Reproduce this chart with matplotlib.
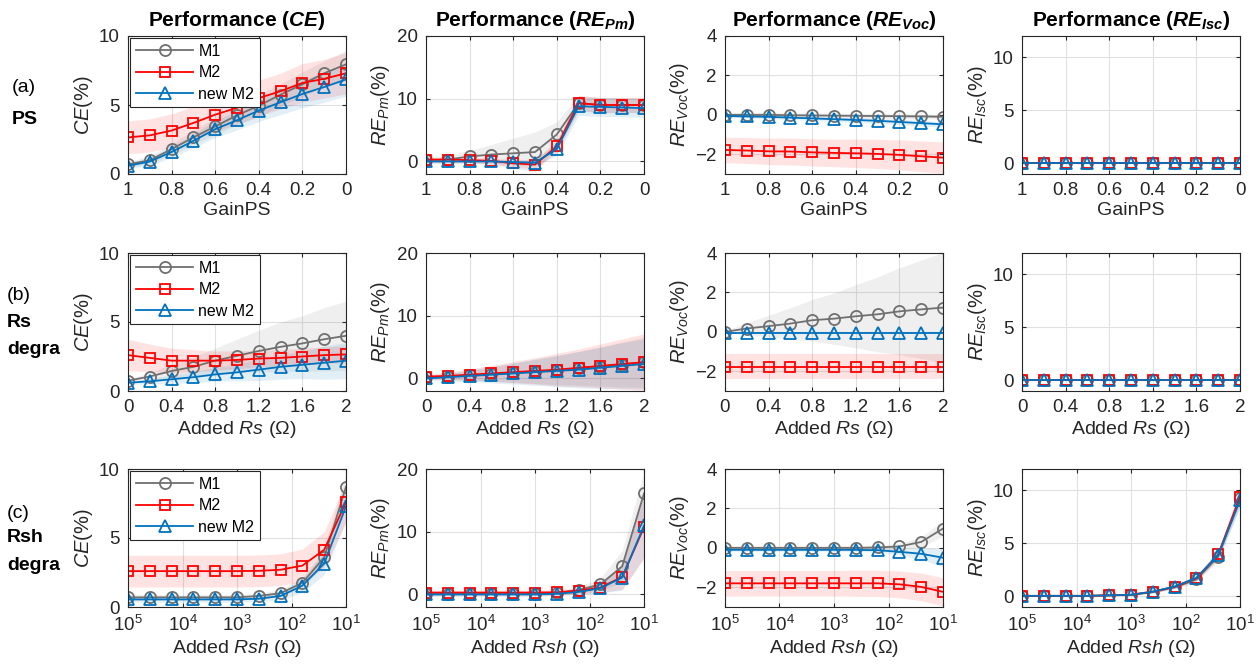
import numpy as np
import matplotlib
matplotlib.use('Agg')
import matplotlib.pyplot as plt

plt.rcParams['font.family'] = 'Liberation Sans'
plt.rcParams['mathtext.fontset'] = 'custom'
plt.rcParams['mathtext.rm'] = 'Liberation Sans'
plt.rcParams['mathtext.it'] = 'Liberation Sans:italic'
plt.rcParams['mathtext.bf'] = 'Liberation Sans:bold'
plt.rcParams['mathtext.bfit'] = 'Liberation Sans:italic:bold'

# x values of the three sweeps
gain = [1, 0.9, 0.8, 0.7, 0.6, 0.5, 0.4, 0.3, 0.2, 0.1, 0]
rs = [0, 0.2, 0.4, 0.6, 0.8, 1.0, 1.2, 1.4, 1.6, 1.8, 2.0]
rsh_exp = [5, 4.6, 4.2, 3.8, 3.4, 3.0, 2.6, 2.2, 1.8, 1.4, 1.0]
rsh = 10 ** np.array(rsh_exp)

# (a) PS
ps_ce_m1 = [0.7, 1.0, 1.8, 2.65, 3.45, 4.25, 4.95, 5.75, 6.5, 7.3, 7.95]
ps_ce_m2 = [2.65, 2.8, 3.15, 3.7, 4.3, 4.8, 5.5, 6.0, 6.6, 6.9, 7.3]
ps_ce_new = [0.6, 0.9, 1.6, 2.4, 3.25, 3.9, 4.6, 5.2, 5.8, 6.3, 6.85]
ps_ce_m1_sd = [0.2, 0.3, 0.4, 0.5, 0.6, 0.7, 0.8, 0.8, 0.9, 0.9, 1.0]
ps_ce_m2_sd = [1.2, 1.2, 1.2, 1.2, 1.2, 1.2, 1.3, 1.3, 1.4, 1.4, 1.5]
ps_ce_new_sd = [0.2, 0.3, 0.4, 0.5, 0.6, 0.7, 0.8, 0.9, 1.0, 1.1, 1.2]

ps_pm_m1 = [0.2, 0.3, 0.8, 1.1, 1.3, 1.5, 4.3, 9.3, 9.0, 9.0, 9.0]
ps_pm_m2 = [0.3, 0.3, 0.2, 0.1, -0.3, -0.5, 2.4, 9.3, 9.0, 9.0, 9.0]
ps_pm_new = [0.0, 0.0, 0.0, 0.0, -0.1, -0.2, 2.0, 8.8, 8.7, 8.6, 8.5]
ps_pm_m1_sd = [0.4, 0.6, 1.0, 1.6, 2.4, 3.2, 2.0, 1.2, 1.2, 1.2, 1.2]
ps_pm_m2_sd = [0.4, 0.4, 0.4, 0.5, 0.6, 0.7, 1.0, 1.2, 1.2, 1.2, 1.2]
ps_pm_new_sd = [0.3, 0.3, 0.3, 0.3, 0.4, 0.5, 1.0, 1.5, 1.5, 1.5, 1.5]

ps_voc_m1 = [0.0, 0.0, 0.0, -0.02, -0.03, -0.04, -0.05, -0.06, -0.07, -0.08, -0.1]
ps_voc_m2 = [-1.78, -1.81, -1.85, -1.86, -1.9, -1.93, -1.95, -1.98, -2.03, -2.1, -2.17]
ps_voc_new = [-0.05, -0.08, -0.1, -0.14, -0.18, -0.22, -0.26, -0.3, -0.36, -0.42, -0.48]
ps_voc_m1_sd = [0.12, 0.12, 0.12, 0.12, 0.12, 0.12, 0.12, 0.12, 0.12, 0.12, 0.12]
ps_voc_m2_sd = [0.65, 0.66, 0.67, 0.68, 0.69, 0.7, 0.72, 0.74, 0.76, 0.78, 0.8]
ps_voc_new_sd = [0.08, 0.08, 0.09, 0.1, 0.1, 0.11, 0.12, 0.12, 0.13, 0.14, 0.15]

ps_isc_m1 = [0.05, 0.05, 0.05, 0.05, 0.05, 0.05, 0.05, 0.05, 0.05, 0.05, 0.05]
ps_isc_m2 = [0.05, 0.05, 0.05, 0.05, 0.05, 0.05, 0.05, 0.05, 0.05, 0.05, 0.05]
ps_isc_new = [0.05, 0.05, 0.05, 0.05, 0.05, 0.05, 0.05, 0.05, 0.05, 0.05, 0.05]
ps_isc_sd = [0.05, 0.05, 0.05, 0.05, 0.05, 0.05, 0.05, 0.05, 0.05, 0.05, 0.05]

# (b) Rs degradation
rs_ce_m1 = [0.75, 1.05, 1.45, 1.75, 2.2, 2.55, 2.9, 3.2, 3.45, 3.75, 4.0]
rs_ce_m2 = [2.6, 2.4, 2.2, 2.2, 2.2, 2.25, 2.35, 2.4, 2.5, 2.6, 2.65]
rs_ce_new = [0.6, 0.7, 0.85, 1.0, 1.2, 1.35, 1.55, 1.75, 1.9, 2.05, 2.2]
rs_ce_m1_sd = [0.1, 0.3, 0.5, 0.7, 0.9, 1.2, 1.5, 1.8, 2.0, 2.3, 2.5]
rs_ce_m2_sd = [1.15, 1.0, 0.9, 0.8, 0.7, 0.65, 0.6, 0.6, 0.6, 0.6, 0.6]
rs_ce_new_sd = [0.1, 0.2, 0.3, 0.4, 0.5, 0.6, 0.8, 0.9, 1.0, 1.2, 1.3]

rs_pm_m1 = [0.2, 0.3, 0.5, 0.7, 0.9, 1.1, 1.3, 1.6, 1.9, 2.2, 2.6]
rs_pm_m2 = [0.3, 0.4, 0.6, 0.8, 1.0, 1.2, 1.4, 1.7, 2.0, 2.3, 2.6]
rs_pm_new = [0.0, 0.2, 0.4, 0.6, 0.8, 1.0, 1.2, 1.4, 1.7, 2.0, 2.3]
rs_pm_m1_sd = [0.3, 0.5, 0.8, 1.1, 1.5, 1.9, 2.3, 2.7, 3.1, 3.6, 4.0]
rs_pm_m2_sd = [0.3, 0.6, 0.9, 1.3, 1.7, 2.1, 2.6, 3.0, 3.5, 4.0, 4.5]
rs_pm_new_sd = [0.3, 0.6, 0.9, 1.3, 1.7, 2.1, 2.5, 2.9, 3.3, 3.7, 4.0]

rs_voc_m1 = [0.0, 0.17, 0.29, 0.42, 0.59, 0.67, 0.79, 0.89, 1.04, 1.14, 1.23]
rs_voc_m2 = [-1.76, -1.76, -1.76, -1.76, -1.76, -1.76, -1.76, -1.76, -1.76, -1.76, -1.76]
rs_voc_new = [-0.08, -0.08, -0.08, -0.08, -0.08, -0.08, -0.08, -0.08, -0.08, -0.08, -0.08]
rs_voc_m1_sd = [0.05, 0.3, 0.55, 0.8, 1.05, 1.3, 1.6, 1.9, 2.2, 2.5, 2.8]
rs_voc_m2_sd = [0.65, 0.65, 0.65, 0.65, 0.65, 0.65, 0.65, 0.65, 0.65, 0.65, 0.65]
rs_voc_new_sd = [0.05, 0.05, 0.05, 0.05, 0.05, 0.05, 0.05, 0.05, 0.05, 0.05, 0.05]

rs_isc_m1 = [0.05, 0.05, 0.05, 0.05, 0.05, 0.05, 0.05, 0.05, 0.05, 0.05, 0.05]
rs_isc_m2 = [0.05, 0.05, 0.05, 0.05, 0.05, 0.05, 0.05, 0.05, 0.05, 0.05, 0.05]
rs_isc_new = [0.05, 0.05, 0.05, 0.05, 0.05, 0.05, 0.05, 0.05, 0.05, 0.05, 0.05]
rs_isc_sd = [0.05, 0.05, 0.05, 0.05, 0.05, 0.05, 0.05, 0.05, 0.05, 0.05, 0.05]

# (c) Rsh degradation
rsh_ce_m1 = [0.7, 0.7, 0.7, 0.7, 0.7, 0.7, 0.8, 1.0, 1.75, 3.6, 8.7]
rsh_ce_m2 = [2.6, 2.6, 2.6, 2.6, 2.6, 2.6, 2.62, 2.7, 3.0, 4.15, 7.6]
rsh_ce_new = [0.55, 0.55, 0.55, 0.55, 0.55, 0.55, 0.6, 0.8, 1.55, 3.15, 7.3]
rsh_ce_m1_sd = [0.2, 0.2, 0.2, 0.2, 0.2, 0.2, 0.2, 0.25, 0.35, 0.6, 1.0]
rsh_ce_m2_sd = [1.15, 1.15, 1.15, 1.15, 1.15, 1.15, 1.15, 1.15, 1.2, 1.3, 1.5]
rsh_ce_new_sd = [0.2, 0.2, 0.2, 0.2, 0.2, 0.2, 0.2, 0.3, 0.5, 0.8, 1.0]

rsh_pm_m1 = [0.1, 0.1, 0.1, 0.1, 0.1, 0.1, 0.2, 0.7, 1.6, 4.5, 16.1]
rsh_pm_m2 = [0.3, 0.3, 0.3, 0.3, 0.3, 0.3, 0.35, 0.6, 1.1, 2.8, 10.7]
rsh_pm_new = [0.0, 0.0, 0.0, 0.0, 0.0, 0.0, 0.1, 0.4, 1.0, 2.7, 11.0]
rsh_pm_m1_sd = [0.3, 0.3, 0.3, 0.3, 0.3, 0.3, 0.3, 0.5, 1.0, 2.5, 3.5]
rsh_pm_m2_sd = [0.4, 0.4, 0.4, 0.4, 0.4, 0.4, 0.4, 0.5, 0.8, 2.0, 5.0]
rsh_pm_new_sd = [0.3, 0.3, 0.3, 0.3, 0.3, 0.3, 0.3, 0.4, 0.8, 2.0, 5.0]

rsh_voc_m1 = [0.0, 0.0, 0.0, 0.0, 0.0, 0.0, 0.0, 0.02, 0.07, 0.3, 0.98]
rsh_voc_m2 = [-1.8, -1.8, -1.8, -1.8, -1.8, -1.8, -1.8, -1.8, -1.85, -1.98, -2.23]
rsh_voc_new = [-0.1, -0.1, -0.1, -0.1, -0.1, -0.1, -0.1, -0.12, -0.2, -0.3, -0.5]
rsh_voc_m1_sd = [0.1, 0.1, 0.1, 0.1, 0.1, 0.1, 0.1, 0.12, 0.15, 0.25, 0.4]
rsh_voc_m2_sd = [0.65, 0.65, 0.65, 0.65, 0.65, 0.65, 0.66, 0.67, 0.68, 0.7, 0.72]
rsh_voc_new_sd = [0.08, 0.08, 0.08, 0.08, 0.08, 0.08, 0.08, 0.1, 0.15, 0.3, 0.45]

rsh_isc_m1 = [0.05, 0.05, 0.05, 0.05, 0.1, 0.15, 0.4, 0.85, 1.6, 3.75, 9.25]
rsh_isc_m2 = [0.05, 0.05, 0.05, 0.05, 0.1, 0.15, 0.45, 0.9, 1.7, 3.95, 9.4]
rsh_isc_new = [0.05, 0.05, 0.05, 0.05, 0.1, 0.15, 0.45, 0.93, 1.75, 3.9, 9.05]
rsh_isc_sd = [0.05, 0.05, 0.05, 0.05, 0.05, 0.05, 0.1, 0.15, 0.25, 0.4, 0.7]

labels = ['M1', 'M2', 'new M2']
colors = ['#707070', '#ff0000', '#0072bd']
markers = ['o', 's', '^']
msizes = [8, 7, 8.5]

titles = [r'Performance ($\mathbfit{CE}$)', r'Performance ($\mathbfit{RE_{Pm}}$)',
          r'Performance ($\mathbfit{RE_{Voc}}$)', r'Performance ($\mathbfit{RE_{Isc}}$)']
ylabels = [r'$CE$(%)', r'$RE_{Pm}$(%)', r'$RE_{Voc}$(%)', r'$RE_{Isc}$(%)']
ylims = [(0, 10), (-2, 20), (-3, 4), (-1, 12)]
yticks = [[0, 5, 10], [0, 10, 20], [-2, 0, 2, 4], [0, 5, 10]]
xlabels = ['GainPS', r'Added $Rs$ ($\Omega$)', r'Added $Rsh$ ($\Omega$)']

rows = [
    (gain, [(ps_ce_m1, ps_ce_m2, ps_ce_new), (ps_pm_m1, ps_pm_m2, ps_pm_new),
            (ps_voc_m1, ps_voc_m2, ps_voc_new), (ps_isc_m1, ps_isc_m2, ps_isc_new)],
     [(ps_ce_m1_sd, ps_ce_m2_sd, ps_ce_new_sd), (ps_pm_m1_sd, ps_pm_m2_sd, ps_pm_new_sd),
      (ps_voc_m1_sd, ps_voc_m2_sd, ps_voc_new_sd), (ps_isc_sd, ps_isc_sd, ps_isc_sd)]),
    (rs, [(rs_ce_m1, rs_ce_m2, rs_ce_new), (rs_pm_m1, rs_pm_m2, rs_pm_new),
          (rs_voc_m1, rs_voc_m2, rs_voc_new), (rs_isc_m1, rs_isc_m2, rs_isc_new)],
     [(rs_ce_m1_sd, rs_ce_m2_sd, rs_ce_new_sd), (rs_pm_m1_sd, rs_pm_m2_sd, rs_pm_new_sd),
      (rs_voc_m1_sd, rs_voc_m2_sd, rs_voc_new_sd), (rs_isc_sd, rs_isc_sd, rs_isc_sd)]),
    (rsh, [(rsh_ce_m1, rsh_ce_m2, rsh_ce_new), (rsh_pm_m1, rsh_pm_m2, rsh_pm_new),
           (rsh_voc_m1, rsh_voc_m2, rsh_voc_new), (rsh_isc_m1, rsh_isc_m2, rsh_isc_new)],
     [(rsh_ce_m1_sd, rsh_ce_m2_sd, rsh_ce_new_sd), (rsh_pm_m1_sd, rsh_pm_m2_sd, rsh_pm_new_sd),
      (rsh_voc_m1_sd, rsh_voc_m2_sd, rsh_voc_new_sd), (rsh_isc_sd, rsh_isc_sd, rsh_isc_sd)]),
]

W, H = 1260, 672
fig = plt.figure(figsize=(12.6, 6.72), dpi=100)
col_left = [128, 426, 725, 1022]
row_bottom = [174, 391, 607]
ax_w, ax_h = 218, 138
ink = '#262626'

for r, (x, means, sds) in enumerate(rows):
    for c in range(4):
        ax = fig.add_axes([col_left[c] / W, 1 - row_bottom[r] / H, ax_w / W, ax_h / H])
        xs = np.array(x, dtype=float)
        for k in range(3):
            y = np.array(means[c][k])
            s = np.array(sds[c][k])
            ax.fill_between(xs, y - s, y + s, color=colors[k], alpha=0.11, lw=0)
        for k in range(3):
            ax.plot(xs, means[c][k], color=colors[k], marker=markers[k], ms=msizes[k],
                    mfc='none', mew=1.3, lw=1.3, label=labels[k])
        if r == 2:
            ax.set_xscale('log')
            ax.set_xlim(1e5, 1e1)
            ax.set_xticks([1e5, 1e4, 1e3, 1e2, 1e1])
            ax.minorticks_off()
        elif r == 0:
            ax.set_xlim(1, 0)
            ax.set_xticks([1, 0.8, 0.6, 0.4, 0.2, 0])
            ax.set_xticklabels(['1', '0.8', '0.6', '0.4', '0.2', '0'])
        else:
            ax.set_xlim(0, 2)
            ax.set_xticks([0, 0.4, 0.8, 1.2, 1.6, 2])
            ax.set_xticklabels(['0', '0.4', '0.8', '1.2', '1.6', '2'])
        ax.set_ylim(*ylims[c])
        ax.set_yticks(yticks[c])
        ax.grid(True, color='#e0e0e0', lw=0.8)
        ax.set_axisbelow(True)
        ax.tick_params(direction='in', top=True, right=True, labelsize=13.5,
                       colors=ink, length=3, pad=6)
        for sp in ax.spines.values():
            sp.set_color(ink)
            sp.set_linewidth(0.8)
        ax.set_ylabel(ylabels[c], fontsize=14.5, color=ink, labelpad=3)
        ax.set_xlabel(xlabels[r], fontsize=14, color=ink, labelpad=2)
        if r == 0:
            ax.set_title(titles[c], fontsize=15, fontweight='bold', pad=7)
        if c == 0:
            leg = ax.legend(loc='upper left', fontsize=11.5, handlelength=3.6,
                            borderaxespad=0.15, fancybox=False, framealpha=1,
                            edgecolor=ink, labelspacing=0.4, borderpad=0.35,
                            handletextpad=0.3)
            leg.get_frame().set_linewidth(0.8)

# row labels on the left
fig.text(12 / W, 1 - 88 / H, '(a)', fontsize=14, va='center')
fig.text(12 / W, 1 - 120 / H, 'PS', fontsize=14, fontweight='bold', va='center')
fig.text(7 / W, 1 - 296 / H, '(b)', fontsize=14, va='center')
fig.text(7 / W, 1 - 322 / H, 'Rs', fontsize=14, fontweight='bold', va='center')
fig.text(7 / W, 1 - 350 / H, 'degra', fontsize=14, fontweight='bold', va='center')
fig.text(7 / W, 1 - 513 / H, '(c)', fontsize=14, va='center')
fig.text(7 / W, 1 - 538 / H, 'Rsh', fontsize=14, fontweight='bold', va='center')
fig.text(7 / W, 1 - 566 / H, 'degra', fontsize=14, fontweight='bold', va='center')

fig.savefig('out.png', dpi=100)
